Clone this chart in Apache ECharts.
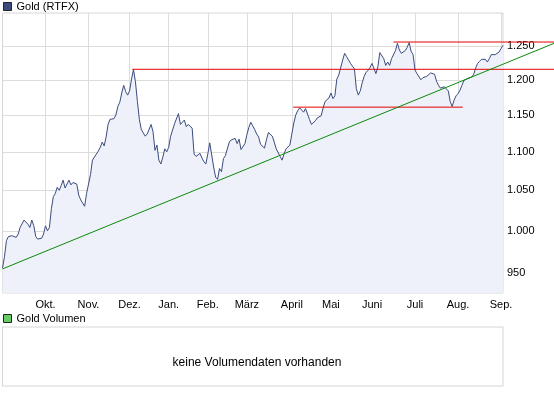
<!DOCTYPE html>
<html>
<head>
<meta charset="utf-8">
<script src="https://cdn.jsdelivr.net/npm/echarts@6/dist/echarts.min.js"></script>
<style>
html,body{margin:0;padding:0;background:#fff;}
#c{width:554px;height:405px;}
</style>
</head>
<body>
<div id="c"></div>
<script>
// ---- data ----
var seriesName = 'Gold (RTFX)';
var volumeName = 'Gold Volumen';
var noVolumeText = 'keine Volumendaten vorhanden';
var startDate = '2009-09-01';
var endDate = '2010-09-02';
var holidays = ['2009-12-24','2009-12-25','2009-12-31','2010-01-01','2010-04-02','2010-04-05'];
var monthLabels = ['Jan.','Feb.','März','April','Mai','Juni','Juli','Aug.','Sep.','Okt.','Nov.','Dez.'];
var yTicks = [950,1000,1050,1100,1150,1200,1250];
var yMin = 927.6;
var yMax = 1300.8;
var goldClose = [
956,969,988,993,995,994,994,992,996,1004,1003,1013,1014,1008,1004,1013,1006,993,990,990,
991,996,1006,1000,1004,1027,1042,1046,1054,1050,1056,1063,1053,1052,1063,1057,1060,1061,1058,1044,
1038,1034,1030,1046,1048,1070,1089,1093,1093,1101,1106,1113,1108,1120,1137,1144,1145,1145,1150,1162,
1168,1181,1192,1183,1178,1184,1201,1215,1197,1169,1144,1130,1130,1121,1124,1126,1137,1127,1102,1109,
1089,1084,1093,1104,1100,1106,1121,1121,1138,1139,1152,1137,1139,1143,1134,1137,1137,1132,1097,1094,
1095,1098,1092,1087,1084,1097,1112,1110,1080,1067,1064,1078,1074,1091,1095,1097,1113,1116,1116,1118,
1111,1117,1103,1101,1111,1123,1133,1140,1139,1130,1124,1120,1110,1109,1105,1116,1126,1125,1121,1113,
1104,1102,1094,1089,1097,1104,1104,1109,1124,1139,1150,1156,1160,1157,1154,1159,1159,1144,1137,1138,
1142,1146,1146,1149,1160,1169,1169,1174,1181,1173,1177,1201,1207,1205,1229,1239,1234,1229,1224,1220,
1216,1187,1178,1184,1196,1205,1211,1214,1218,1224,1224,1209,1219,1240,1238,1231,1221,1226,1221,1231,
1230,1243,1254,1244,1239,1240,1243,1248,1255,1242,1237,1214,1209,1208,1200,1203,1205,1205,1207,1210,
1211,1208,1198,1192,1188,1188,1190,1189,1184,1169,1162,1171,1177,1180,1185,1192,1199,1201,1202,1202,
1204,1208,1217,1224,1227,1230,1231,1230,1226,1231,1237,1238,1237,1238,1241,1246,1251
];
// drawn lines: [index, price] pairs (index in trading days, beyond last day = into the label area)
var trendLine = [[0, 955], [282.09, 1254]];
var resistanceTop = [[200, 1256], [282.09, 1256]];
var resistanceDec = [[66.4, 1215.3], [282.09, 1215.3]];
var supportLine = [[148.7, 1161], [235.4, 1161]];

// trading-day categories
var categories = [];
(function () {
  var d = Date.UTC(2009, 8, 1), end = Date.UTC(2010, 8, 2);
  while (d <= end) {
    var dt = new Date(d);
    var wd = dt.getUTCDay();
    var s = dt.toISOString().slice(0, 10);
    if (wd !== 0 && wd !== 6 && holidays.indexOf(s) < 0) categories.push(s);
    d += 86400000;
  }
})();
function isMonthStart(i) {
  return i > 0 && categories[i] && categories[i - 1] && categories[i].slice(5, 7) !== categories[i - 1].slice(5, 7);
}
var lastIdx = categories.length - 1;

var font = 'Liberation Sans, Arial, sans-serif';
var navy = '#3b4b7e';

var chart = echarts.init(document.getElementById('c'), null, {renderer: 'canvas'});
chart.setOption({
  animation: false,
  backgroundColor: '#ffffff',
  textStyle: {fontFamily: font},
  legend: [
    {
      data: [seriesName], left: 3, top: 1, padding: 0, icon: 'rect', itemWidth: 8, itemHeight: 8,
      selectedMode: false,
      itemStyle: {borderColor: '#222', borderWidth: 1},
      textStyle: {fontFamily: font, fontSize: 11, color: '#000'}
    },
    {
      data: [volumeName], left: 3, top: 313, padding: 0, icon: 'rect', itemWidth: 8, itemHeight: 8,
      selectedMode: false,
      itemStyle: {borderColor: '#222', borderWidth: 1},
      textStyle: {fontFamily: font, fontSize: 11, color: '#000'}
    }
  ],
  title: {
    text: noVolumeText, left: 252, top: 352, textAlign: 'center',
    textStyle: {fontFamily: font, fontSize: 12, fontWeight: 'normal', color: '#000'}
  },
  grid: [
    {left: 2.5, top: 13, width: 500.5, height: 280, show: true, backgroundColor: '#fff', borderColor: '#d6d6d6', borderWidth: 1},
    {left: 2.5, top: 13, width: 551.5, height: 280, show: false},
    {left: 2.5, top: 327, width: 500.5, height: 59, show: true, backgroundColor: '#fff', borderColor: '#d6d6d6', borderWidth: 1}
  ],
  xAxis: [
    {
      type: 'category', gridIndex: 0, data: categories, boundaryGap: false,
      axisLine: {show: false}, axisTick: {show: false, interval: function (i) { return isMonthStart(i); }},
      splitLine: {show: true, interval: function (i) { return isMonthStart(i); }, lineStyle: {color: '#dcdcdc', width: 1}},
      axisLabel: {
        interval: function (i) { return isMonthStart(i); }, margin: 6, fontSize: 11, color: '#000', fontFamily: font,
        formatter: function (v) { return monthLabels[parseInt(v.slice(5, 7), 10) - 1]; }
      }
    },
    {type: 'value', gridIndex: 1, min: 0, max: 282.09, show: false, splitLine: {show: false}},
    {type: 'value', gridIndex: 2, min: 0, max: 1, show: false, splitLine: {show: false}}
  ],
  yAxis: [
    {
      type: 'log', gridIndex: 0, position: 'right', min: yMin, max: yMax,
      axisLine: {show: false},
      axisTick: {show: false, customValues: yTicks},
      splitLine: {show: true, lineStyle: {color: '#dcdcdc', width: 1}},
      axisLabel: {
        customValues: yTicks, margin: 4, fontSize: 11, color: '#000', fontFamily: font,
        formatter: function (v) {
          v = Math.round(v);
          return v >= 1000 ? Math.floor(v / 1000) + '.' + String(v % 1000).padStart(3, '0') : String(v);
        }
      }
    },
    {type: 'log', gridIndex: 1, min: yMin, max: yMax, show: false, splitLine: {show: false}},
    {type: 'value', gridIndex: 2, min: 0, max: 1, show: false, splitLine: {show: false}}
  ],
  series: [
    {
      name: seriesName, type: 'line', xAxisIndex: 0, yAxisIndex: 0, data: goldClose,
      showSymbol: false, symbol: 'none', color: navy,
      lineStyle: {color: navy, width: 1},
      areaStyle: {color: '#eef1f9', opacity: 1, origin: 'start'},
      z: 2
    },
    {
      name: volumeName, type: 'bar', xAxisIndex: 2, yAxisIndex: 2, data: [], color: '#66cc66'
    },
    {
      name: 'trend', type: 'line', xAxisIndex: 1, yAxisIndex: 1, data: trendLine, symbol: 'none',
      lineStyle: {color: '#0a8a0a', width: 1}, z: 5
    },
    {
      name: 'res1', type: 'line', xAxisIndex: 1, yAxisIndex: 1, data: resistanceTop, symbol: 'none',
      lineStyle: {color: '#e60000', width: 1}, z: 4
    },
    {
      name: 'res2', type: 'line', xAxisIndex: 1, yAxisIndex: 1, data: resistanceDec, symbol: 'none',
      lineStyle: {color: '#e60000', width: 1}, z: 4
    },
    {
      name: 'sup', type: 'line', xAxisIndex: 1, yAxisIndex: 1, data: supportLine, symbol: 'none',
      lineStyle: {color: '#e60000', width: 1}, z: 4
    }
  ]
});
</script>
</body>
</html>
